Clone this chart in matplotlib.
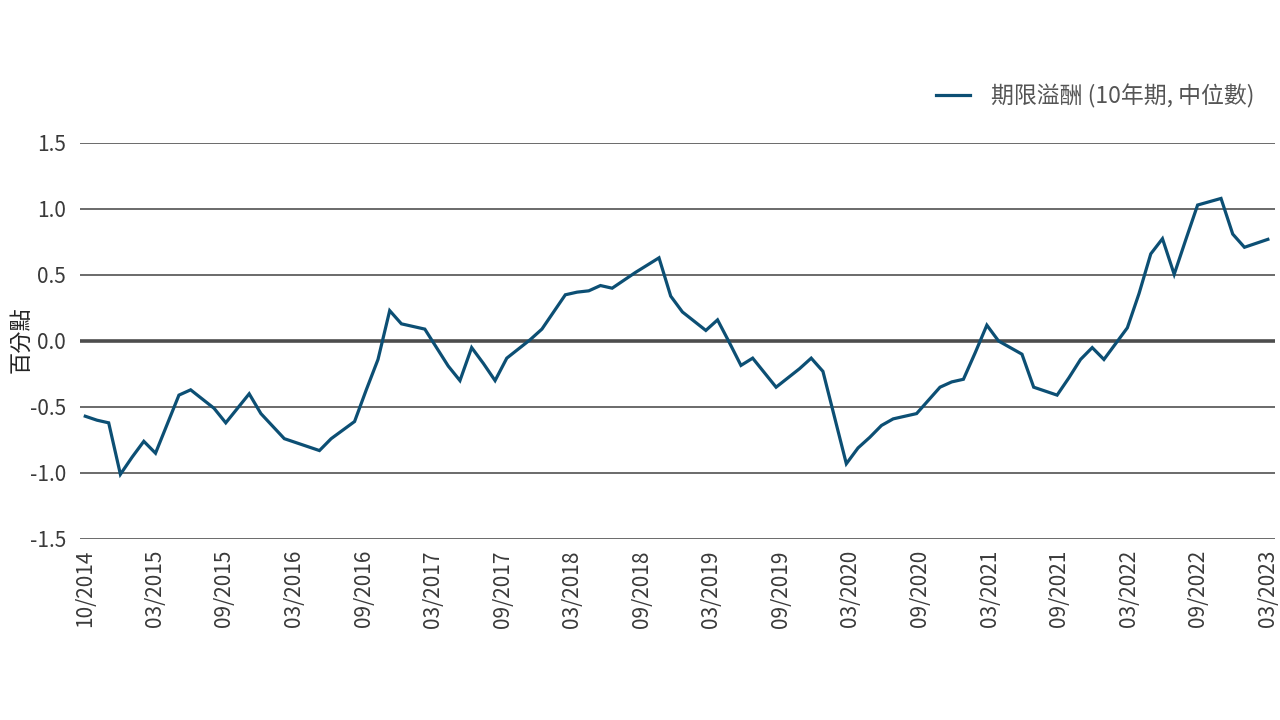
import numpy as np
import matplotlib
matplotlib.use("Agg")
import matplotlib.pyplot as plt

plt.rcParams['font.family'] = ['Noto Sans CJK TC', 'DejaVu Sans']

# miesieczne dane 10/2014 - 03/2023
wartosci = [-0.57, -0.60, -0.62, -1.01, -0.88, -0.76, -0.85, -0.63, -0.41, -0.37,
            -0.44, -0.51, -0.62, -0.51, -0.40, -0.55, -0.645, -0.74, -0.77, -0.80,
            -0.83, -0.74, -0.675, -0.61, -0.37, -0.14, 0.23, 0.13, 0.11, 0.09,
            -0.05, -0.19, -0.30, -0.05, -0.17, -0.30, -0.13, -0.06, 0.01, 0.09,
            0.22, 0.35, 0.37, 0.38, 0.42, 0.40, 0.46, 0.52, 0.575, 0.63,
            0.34, 0.22, 0.15, 0.08, 0.16, -0.01, -0.185, -0.13, -0.24, -0.35,
            -0.28, -0.21, -0.13, -0.23, -0.58, -0.93, -0.81, -0.73, -0.64, -0.59,
            -0.57, -0.55, -0.45, -0.35, -0.31, -0.29, -0.09, 0.12, 0.00, -0.05,
            -0.10, -0.35, -0.38, -0.41, -0.28, -0.14, -0.05, -0.14, -0.02, 0.10,
            0.36, 0.66, 0.775, 0.505, 0.77, 1.03, 1.055, 1.08, 0.81, 0.71,
            0.74, 0.77]

etykiety_x = ["10/2014", "03/2015", "09/2015", "03/2016", "09/2016", "03/2017",
              "09/2017", "03/2018", "09/2018", "03/2019", "09/2019", "03/2020",
              "09/2020", "03/2021", "09/2021", "03/2022", "09/2022", "03/2023"]
etykiety_y = [-1.5, -1.0, -0.5, 0.0, 0.5, 1.0, 1.5]

nazwa_serii = "期限溢酬 (10年期, 中位數)"
os_y = "百分點"

kolor_linii = '#0c4f74'
kolor_siatki = '#5f5f5f'
kolor_tekstu = '#3a3a3a'

fig = plt.figure(figsize=(12.8, 7.2), dpi=100)
ax = fig.add_axes([0.0625, 0.2514, 0.9335, 0.55])

x = np.arange(len(wartosci))

for y in etykiety_y:
    if y == 0:
        ax.axhline(y, color='#4d4d4d', lw=2.6, zorder=1)
    else:
        ax.axhline(y, color=kolor_siatki, lw=1.3, zorder=1)

ax.plot(x, wartosci, color=kolor_linii, lw=2.3, label=nazwa_serii, zorder=3,
        solid_joinstyle='miter')

ax.set_xlim(-0.45, len(wartosci) - 1 + 0.6)
ax.set_ylim(-1.5, 1.5)

ax.set_xticks(np.linspace(0, len(wartosci) - 1, len(etykiety_x)))
ax.set_xticklabels(etykiety_x, rotation=90, fontsize=15, color=kolor_tekstu)
ax.set_yticks(etykiety_y)
ax.set_yticklabels([f"{v:.1f}" for v in etykiety_y], fontsize=15, color=kolor_tekstu)
ax.tick_params(length=0, pad=8)
ax.tick_params(axis='y', pad=10)

for s in ax.spines.values():
    s.set_visible(False)

fig.text(0.016, 1 - 340 / 720, os_y, rotation=90, fontsize=16, color='#222222',
         ha='center', va='center')

leg = ax.legend(loc='lower right', bbox_to_anchor=(1.0, 1.035), frameon=False,
                fontsize=16.5, handlelength=1.5, handletextpad=0.9)
for t in leg.get_texts():
    t.set_color('#555555')

fig.savefig('out.png', dpi=100)
